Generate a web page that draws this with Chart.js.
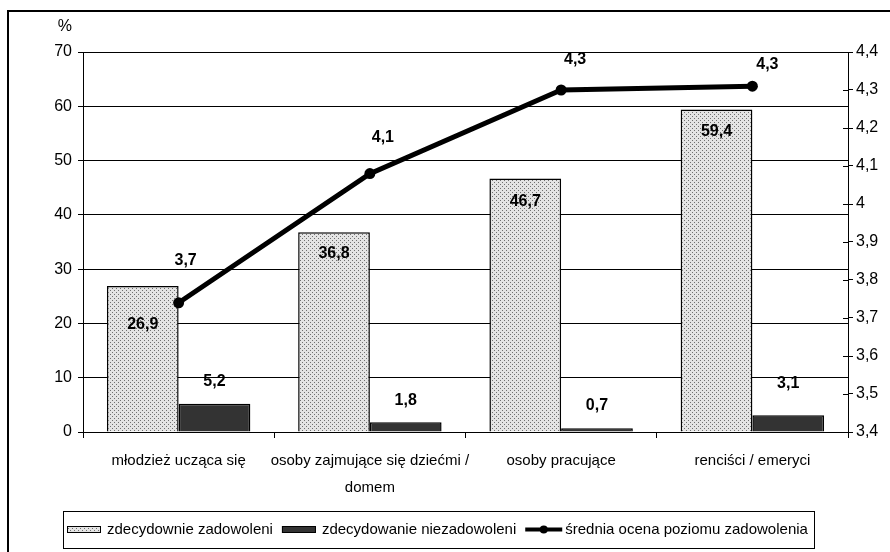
<!DOCTYPE html>
<html lang="pl">
<head>
<meta charset="utf-8">
<title>Zadowolenie według grup</title>
<script src="https://cdn.jsdelivr.net/npm/chart.js@4/dist/chart.umd.min.js"></script>
<style>
  html, body { margin: 0; padding: 0; background: #ffffff; }
  #wrap { width: 890px; height: 552px; position: relative; }
</style>
</head>
<body>
<div id="wrap"><canvas id="chart" width="890" height="552"></canvas></div>
<script>
// Grupy respondentów (etykiety osi X, wiersze etykiety jako tablica)
const categories = [
  ['młodzież ucząca się'],
  ['osoby zajmujące się dziećmi /', 'domem'],
  ['osoby pracujące'],
  ['renciści / emeryci']
];

// Odsetki (%) – oś lewa
const satisfied    = [26.9, 36.8, 46.7, 59.4];
const dissatisfied = [5.2, 1.8, 0.7, 3.1];

// Średnia ocena poziomu zadowolenia – oś prawa
const meanScore = [3.74, 4.08, 4.30, 4.31];

const seriesNames = [
  'zdecydownie zadowoleni',
  'zdecydowanie niezadowoleni',
  'średnia ocena poziomu zadowolenia'
];

// Zakresy osi
const leftAxis  = { min: 0,   max: 70,  step: 10 };
const rightAxis = { min: 3.4, max: 4.4, step: 0.1 };
const leftAxisTitle = '%';

const FONT = '"Liberation Sans", Arial, sans-serif';
Chart.defaults.font.family = FONT;
Chart.defaults.color = '#000';

const fmt = v => (Math.round(v * 10) / 10).toString().replace('.', ',');

// Kropkowany deseń słupków
function dotPattern() {
  const c = document.createElement('canvas');
  c.width = 4; c.height = 4;
  const g = c.getContext('2d');
  g.fillStyle = '#e4e4e4';
  g.fillRect(0, 0, 4, 4);
  g.fillStyle = '#707070';
  g.fillRect(0, 0, 1, 1);
  g.fillRect(2, 2, 1, 1);
  return g.createPattern(c, 'repeat');
}
const dots = dotPattern();

// Tło, ramka, tytuł osi, znaczniki prawej osi
const framePlugin = {
  id: 'frame',
  beforeDraw(chart) {
    const ctx = chart.ctx;
    ctx.save();
    ctx.fillStyle = '#fff';
    ctx.fillRect(0, 0, chart.width, chart.height);
    ctx.restore();
  },
  afterDraw(chart) {
    const ctx = chart.ctx;
    const area = chart.chartArea;
    ctx.save();
    // ramka wykresu (lewa i górna krawędź)
    ctx.strokeStyle = '#000';
    ctx.lineWidth = 2;
    ctx.beginPath();
    ctx.moveTo(8, chart.height + 2);
    ctx.lineTo(8, 11);
    ctx.lineTo(chart.width + 2, 11);
    ctx.stroke();
    // tytuł osi lewej
    ctx.font = '16px ' + FONT;
    ctx.fillStyle = '#000';
    ctx.textAlign = 'right';
    ctx.textBaseline = 'middle';
    ctx.fillText(leftAxisTitle, area.left - 11, 27);
    // wewnętrzne znaczniki prawej osi
    const y2 = chart.scales.y2;
    ctx.lineWidth = 1;
    ctx.beginPath();
    y2.ticks.forEach(t => {
      const y = Math.round(y2.getPixelForValue(t.value)) + 0.5;
      ctx.moveTo(area.right - 5, y);
      ctx.lineTo(area.right, y);
    });
    ctx.stroke();
    ctx.restore();
  }
};

// Etykiety wartości
const valueLabels = {
  id: 'valueLabels',
  afterDatasetsDraw(chart, args, opts) {
    const ctx = chart.ctx;
    ctx.save();
    ctx.font = 'bold 16px ' + FONT;
    ctx.fillStyle = '#000';
    ctx.textAlign = 'center';
    ctx.textBaseline = 'middle';
    chart.data.datasets.forEach((ds, i) => {
      const meta = chart.getDatasetMeta(i);
      const nudge = opts.nudges[i];
      meta.data.forEach((el, j) => {
        const [dx, dy] = nudge[j];
        ctx.fillText(fmt(ds.data[j]), el.x + dx, el.y + dy);
      });
    });
    ctx.restore();
  }
};

// Legenda w ramce pod wykresem
const boxLegend = {
  id: 'boxLegend',
  afterDraw(chart) {
    const ctx = chart.ctx;
    ctx.save();
    ctx.font = '15px ' + FONT;
    ctx.textBaseline = 'middle';
    ctx.textAlign = 'left';
    const cy = 529.5;
    let x = 67;
    const swW = 34, swH = 7;
    const items = chart.data.datasets;
    items.forEach((ds, i) => {
      if (ds.type === 'line') {
        ctx.strokeStyle = '#000';
        ctx.lineWidth = 4;
        ctx.beginPath();
        ctx.moveTo(x, cy);
        ctx.lineTo(x + 37, cy);
        ctx.stroke();
        ctx.beginPath();
        ctx.arc(x + 18.5, cy, 4, 0, Math.PI * 2);
        ctx.fillStyle = '#000';
        ctx.fill();
        x += 40;
      } else {
        ctx.fillStyle = ds.backgroundColor;
        ctx.fillRect(x, cy - swH / 2, swW, swH);
        ctx.strokeStyle = '#000';
        ctx.lineWidth = 1;
        ctx.strokeRect(x + 0.5, cy - swH / 2 + 0.5, swW - 1, swH - 1);
        x += swW + 6;
      }
      ctx.fillStyle = '#000';
      ctx.fillText(ds.label, x, cy);
      x += ctx.measureText(ds.label).width + 9;
    });
    ctx.strokeStyle = '#000';
    ctx.lineWidth = 1;
    ctx.strokeRect(63.5, 511.5, Math.round(x - 3) - 63, 37);
    ctx.restore();
  }
};

new Chart(document.getElementById('chart'), {
  data: {
    labels: categories,
    datasets: [
      {
        type: 'bar',
        label: seriesNames[0],
        data: satisfied,
        backgroundColor: dots,
        borderColor: '#000',
        borderWidth: 1.5,
        yAxisID: 'y',
        order: 1
      },
      {
        type: 'bar',
        label: seriesNames[1],
        data: dissatisfied,
        backgroundColor: '#333333',
        borderColor: '#000',
        borderWidth: 1.5,
        yAxisID: 'y',
        order: 2
      },
      {
        type: 'line',
        label: seriesNames[2],
        data: meanScore,
        borderColor: '#000',
        backgroundColor: '#000',
        borderWidth: 5,
        pointRadius: 5.5,
        pointHoverRadius: 5.5,
        pointBackgroundColor: '#000',
        pointBorderWidth: 0,
        tension: 0,
        yAxisID: 'y2',
        order: 0
      }
    ]
  },
  options: {
    responsive: false,
    animation: false,
    devicePixelRatio: 1,
    layout: { padding: { top: 52, left: 0, right: 0, bottom: 0 } },
    datasets: {
      bar: { categoryPercentage: 0.75, barPercentage: 1.0, borderSkipped: 'start' }
    },
    plugins: {
      legend: { display: false },
      tooltip: { enabled: false },
      valueLabels: {
        nudges: [
          [[0, 39], [0, 21], [0, 23], [0, 22]],
          [[0, -22], [0, -22], [0, -23], [0, -32]],
          [[7, -42], [13, -36], [14, -30], [15, -22]]
        ]
      }
    },
    scales: {
      x: {
        type: 'category',
        offset: true,
        grid: { offset: true, drawOnChartArea: false, color: '#000', tickLength: 6, lineWidth: 1 },
        border: { color: '#000', width: 1 },
        ticks: {
          color: '#000',
          font: { size: 15, lineHeight: 1.75 },
          padding: 10,
          maxRotation: 0,
          autoSkip: false
        },
        afterFit(s) { s.height = 120; }
      },
      y: {
        position: 'left',
        min: leftAxis.min,
        max: leftAxis.max,
        ticks: { stepSize: leftAxis.step, color: '#000', font: { size: 16 }, padding: 6 },
        grid: { color: '#000', lineWidth: 1, tickLength: 5, drawTicks: true },
        border: { color: '#000', width: 1 },
        afterFit(s) { s.width = 83; }
      },
      y2: {
        position: 'right',
        min: rightAxis.min,
        max: rightAxis.max,
        ticks: {
          stepSize: rightAxis.step,
          color: '#000',
          font: { size: 16 },
          padding: 3,
          callback: v => fmt(v)
        },
        grid: { drawOnChartArea: false, color: '#000', tickLength: 5 },
        border: { color: '#000', width: 1 },
        afterFit(s) { s.width = 42; }
      }
    }
  },
  plugins: [framePlugin, valueLabels, boxLegend]
});
</script>
</body>
</html>
